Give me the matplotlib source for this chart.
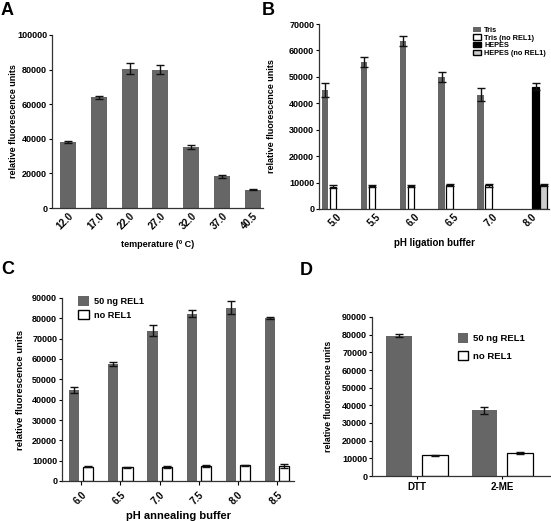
import numpy as np
import matplotlib
matplotlib.use('Agg')
import matplotlib.pyplot as plt
from matplotlib.patches import Patch

plt.rcParams['font.family'] = ['Liberation Sans', 'DejaVu Sans']
plt.rcParams['font.weight'] = 'bold'
plt.rcParams['axes.labelweight'] = 'bold'
plt.rcParams['font.size'] = 6.5

W, H = 551, 521
GREY = '#666666'

# Panel A: temperature
temps = ['12.0', '17.0', '22.0', '27.0', '32.0', '37.0', '40.5']
a_vals = [38000, 64000, 80500, 80000, 35300, 18300, 10500]
a_err = [700, 900, 3200, 2500, 1000, 1000, 200]

# Panel B: pH ligation buffer
ph_lig = ['5.0', '5.5', '6.0', '6.5', '7.0', '8.0']
tris = [45000, 55700, 63500, 50000, 43300, np.nan]
tris_err = [2500, 2000, 2000, 1800, 2500, np.nan]
tris_no = [8500, 8700, 8600, 9000, 9000, np.nan]
tris_no_err = [400, 400, 300, 300, 600, np.nan]
hepes = [np.nan, np.nan, np.nan, np.nan, np.nan, 46300]
hepes_err = [np.nan, np.nan, np.nan, np.nan, np.nan, 1200]
hepes_no = [np.nan, np.nan, np.nan, np.nan, np.nan, 9000]
hepes_no_err = [np.nan, np.nan, np.nan, np.nan, np.nan, 300]

# Panel C: pH annealing buffer
ph_ann = ['6.0', '6.5', '7.0', '7.5', '8.0', '8.5']
c_rel = [44800, 57500, 74000, 82300, 85300, 80000]
c_rel_err = [1500, 800, 2800, 1800, 3200, 500]
c_no = [7000, 6700, 6800, 7500, 7800, 7300]
c_no_err = [300, 400, 500, 400, 300, 1000]

# Panel D: reducing agent
agents = ['DTT', '2-ME']
d_rel = [79500, 37300]
d_rel_err = [800, 2000]
d_no = [11800, 13000]
d_no_err = [300, 500]

YLAB = 'relative fluorescence units'


def px_axes(fig, left, right, top, bottom):
    ax = fig.add_axes([left / W, 1 - bottom / H, (right - left) / W, (bottom - top) / H])
    ax.box_px = (left, right, top, bottom)
    return ax


def place_labels(ax, ylab_right=None, xlab_top=None):
    # put axis labels at given pixel positions of the figure
    left, right, top, bottom = ax.box_px
    if ylab_right is not None:
        ax.yaxis.set_label_coords((ylab_right - left) / (right - left), 0.5)
    if xlab_top is not None:
        ax.xaxis.set_label_coords(0.5, (bottom - xlab_top) / (bottom - top))


def style(ax):
    for s in ['top', 'right']:
        ax.spines[s].set_visible(False)
    for s in ['left', 'bottom']:
        ax.spines[s].set_linewidth(0.9)
        ax.spines[s].set_color('#333333')
    ax.tick_params(axis='y', length=2.5, width=0.8, pad=1, labelsize=6.5)
    ax.tick_params(axis='x', labelsize=7)


def bars(ax, x, vals, errs, width, color, edge):
    ax.bar(x, vals, width, color=color, edgecolor=edge, linewidth=0.9 if edge != 'none' else 0)
    ax.errorbar(x, vals, yerr=errs, fmt='none', ecolor='#111111', elinewidth=1, capsize=3, capthick=1)


fig = plt.figure(figsize=(W / 100, H / 100), dpi=100)

# A
ax = px_axes(fig, 52, 263, 35, 208)
x = np.arange(len(temps))
bars(ax, x, a_vals, a_err, 0.52, GREY, 'none')
ax.set_xlim(-0.52, 6.33)
ax.set_ylim(0, 100000)
ax.set_yticks(np.arange(0, 100001, 20000))
ax.set_xticks(x)
ax.set_xticklabels(temps, rotation=45, ha='right', va='top', rotation_mode='anchor')
ax.set_xlabel('temperature (º C)', fontsize=6.5)
ax.set_ylabel(YLAB, fontsize=6.5)
style(ax)
ax.tick_params(axis='x', length=0, pad=2)
place_labels(ax, ylab_right=18, xlab_top=240)

# B
ax = px_axes(fig, 319, 549, 24, 209)
x = np.arange(len(ph_lig))
sw = 0.205
bars(ax, x - 1.5 * sw, tris, tris_err, sw * 0.85, GREY, 'none')
bars(ax, x - 0.5 * sw, tris_no, tris_no_err, sw * 0.85, 'white', 'black')
bars(ax, x + 0.5 * sw, hepes, hepes_err, sw * 0.85, 'black', 'black')
bars(ax, x + 1.5 * sw, hepes_no, hepes_no_err, sw * 0.85, '#cccccc', 'black')
ax.set_xlim(-0.46, 5.44)
ax.set_ylim(0, 70000)
ax.set_yticks(np.arange(0, 70001, 10000))
ax.set_xticks(x)
ax.set_xticklabels(ph_lig, rotation=45, ha='right', va='top', rotation_mode='anchor')
ax.set_xlabel('pH ligation buffer', fontsize=7)
ax.set_ylabel(YLAB, fontsize=6.5)
style(ax)
ax.tick_params(axis='x', length=0, pad=2)
place_labels(ax, ylab_right=276, xlab_top=238)
handles = [Patch(facecolor=GREY, edgecolor='none', label='Tris'),
           Patch(facecolor='white', edgecolor='black', label='Tris (no REL1)'),
           Patch(facecolor='black', edgecolor='black', label='HEPES'),
           Patch(facecolor='#cccccc', edgecolor='black', label='HEPES (no REL1)')]
ax.legend(handles=handles, loc='upper right', bbox_to_anchor=(1.0, 1.0), frameon=False,
          fontsize=5.3, handlelength=1.2, handleheight=0.7, handletextpad=0.4,
          labelspacing=0.05, borderaxespad=0)

# C
ax = px_axes(fig, 62, 294, 298, 481)
x = np.arange(len(ph_ann))
bars(ax, x - 0.18, c_rel, c_rel_err, 0.26, GREY, 'none')
bars(ax, x + 0.18, c_no, c_no_err, 0.26, 'white', 'black')
ax.set_xlim(-0.49, 5.43)
ax.set_ylim(0, 90000)
ax.set_yticks(np.arange(0, 90001, 10000))
ax.set_xticks(x)
ax.set_xticklabels(ph_ann, rotation=45, ha='right', va='top', rotation_mode='anchor')
ax.set_xlabel('pH annealing buffer', fontsize=8)
ax.set_ylabel(YLAB, fontsize=6.8)
style(ax)
ax.tick_params(axis='x', length=3, width=0.8, pad=3)
place_labels(ax, ylab_right=25, xlab_top=511)
handles = [Patch(facecolor=GREY, edgecolor='none', label='50 ng REL1'),
           Patch(facecolor='white', edgecolor='black', label='no REL1')]
ax.legend(handles=handles, loc='upper left', bbox_to_anchor=(0.06, 1.02), frameon=False,
          fontsize=6.6, handlelength=1.25, handleheight=1.25, handletextpad=0.5,
          labelspacing=0.4, borderaxespad=0, borderpad=0.2)

# D
ax = px_axes(fig, 372, 550, 317, 476)
x = np.arange(len(agents))
bars(ax, x - 0.21, d_rel, d_rel_err, 0.3, GREY, 'none')
bars(ax, x + 0.21, d_no, d_no_err, 0.3, 'white', 'black')
ax.set_xlim(-0.53, 1.56)
ax.set_ylim(0, 90000)
ax.set_yticks(np.arange(0, 90001, 10000))
ax.set_xticks(x)
ax.set_xticklabels(agents)
ax.set_ylabel(YLAB, fontsize=6.3)
style(ax)
ax.tick_params(axis='x', length=2, width=0.8, pad=2)
place_labels(ax, ylab_right=333)
handles = [Patch(facecolor=GREY, edgecolor='none', label='50 ng REL1'),
           Patch(facecolor='white', edgecolor='black', label='no REL1')]
ax.legend(handles=handles, loc='upper left', bbox_to_anchor=(0.46, 0.92), frameon=False,
          fontsize=6.8, handlelength=1.1, handleheight=1.1, handletextpad=0.5,
          labelspacing=0.8, borderaxespad=0)

# panel letters
for lab, px, py in [('A', 1, 2), ('B', 262, 2), ('C', 1, 261), ('D', 300, 262)]:
    fig.text(px / W, 1 - py / H, lab, fontsize=13, fontweight='bold', va='top', ha='left')

fig.savefig('out.png', dpi=100)
